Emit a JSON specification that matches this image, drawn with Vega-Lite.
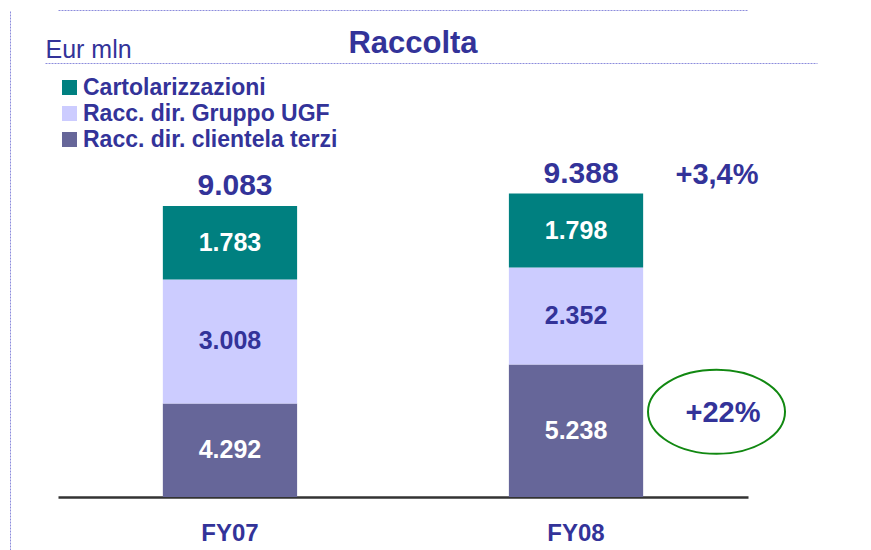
{
  "$schema": "https://vega.github.io/schema/vega-lite/v6.json",
  "width": 861,
  "height": 540,
  "autosize": "none",
  "padding": {"left": 10, "top": 10, "right": 0, "bottom": 0},
  "background": "white",
  "config": {
    "view": {"stroke": null},
    "font": "Liberation Sans",
    "locale": {"number": {"decimal": ",", "thousands": ".", "grouping": [3], "currency": ["€", ""]}}
  },
  "datasets": {
    "segments": [
      {"year": "FY07", "serie": "Racc. dir. clientela terzi", "ord": 1, "value": 4292},
      {"year": "FY07", "serie": "Racc. dir. Gruppo UGF", "ord": 2, "value": 3008},
      {"year": "FY07", "serie": "Cartolarizzazioni", "ord": 3, "value": 1783},
      {"year": "FY08", "serie": "Racc. dir. clientela terzi", "ord": 1, "value": 5238, "growth": "+22%"},
      {"year": "FY08", "serie": "Racc. dir. Gruppo UGF", "ord": 2, "value": 2352},
      {"year": "FY08", "serie": "Cartolarizzazioni", "ord": 3, "value": 1798}
    ],
    "totals": [
      {"year": "FY07", "total": 9083},
      {"year": "FY08", "total": 9388, "growth": "+3,4%"}
    ]
  },
  "layer": [
    {
      "layer": [
        {
          "data": {"name": "segments"},
          "transform": [
            {"stack": "value", "groupby": ["year"], "sort": [{"field": "ord", "order": "ascending"}], "as": ["v0", "v1"]},
            {"calculate": "max(datum.v0, 2020)", "as": "lo"}
          ],
          "mark": {"type": "bar"},
          "encoding": {
            "x": {
              "field": "year", "type": "nominal",
              "scale": {"range": [48, 738], "paddingInner": 0.612, "paddingOuter": 0.303},
              "axis": {
                "orient": "bottom", "offset": -53, "title": null,
                "domainColor": "#333333", "domainWidth": 2.5,
                "ticks": false, "tickSize": 0, "labelPadding": 24, "labelAngle": 0,
                "labelFont": "Liberation Sans", "labelFontSize": 24, "labelFontWeight": "bold",
                "labelColor": "#333399", "labelBaseline": "top"
              }
            },
            "y": {
              "field": "v1", "type": "quantitative",
              "scale": {"domain": [735, 13842], "nice": false, "zero": false},
              "axis": {
                "orient": "left", "values": [13842],
                "labels": false, "ticks": false,
                "domain": true, "domainColor": "#8c8cdc", "domainDash": [2, 1], "domainWidth": 1,
                "grid": true, "gridColor": "#8c8cdc", "gridDash": [2, 1], "gridWidth": 1,
                "title": "Eur mln", "titleAngle": 0, "titleAlign": "left", "titleBaseline": "alphabetic",
                "titleX": 35, "titleY": 47,
                "titleFont": "Liberation Sans", "titleFontSize": 25, "titleFontWeight": "normal", "titleColor": "#333399"
              }
            },
            "y2": {"field": "lo"},
            "color": {
              "field": "serie", "type": "nominal",
              "scale": {
                "domain": ["Cartolarizzazioni", "Racc. dir. Gruppo UGF", "Racc. dir. clientela terzi"],
                "range": ["#008080", "#CCCCFF", "#666699"]
              },
              "legend": {
                "title": null, "orient": "none", "legendX": 48, "legendY": 66,
                "symbolType": "square", "symbolSize": 225, "symbolStrokeWidth": 0, "symbolOpacity": 1,
                "labelFont": "Liberation Sans", "labelFontSize": 23, "labelFontWeight": "bold",
                "labelColor": "#333399", "labelOffset": 2, "labelLimit": 500,
                "rowPadding": 2, "padding": 0
              }
            }
          }
        },
        {
          "data": {"name": "segments"},
          "transform": [
            {"stack": "value", "groupby": ["year"], "sort": [{"field": "ord", "order": "ascending"}], "as": ["v0", "v1"]},
            {"calculate": "(max(datum.v0, 2020) + datum.v1) / 2", "as": "mid"}
          ],
          "mark": {"type": "text", "font": "Liberation Sans", "fontSize": 25, "fontWeight": "bold", "baseline": "middle", "align": "center"},
          "encoding": {
            "x": {"field": "year", "type": "nominal"},
            "y": {"field": "mid", "type": "quantitative"},
            "text": {"field": "value", "type": "quantitative", "format": ",.0f"},
            "color": {"condition": {"test": "datum.ord === 2", "value": "#333399"}, "value": "#FFFFFF"}
          }
        },
        {
          "data": {"name": "totals"},
          "mark": {"type": "text", "font": "Liberation Sans", "fontSize": 30, "fontWeight": "bold", "baseline": "middle", "align": "center", "dx": 5, "dy": -20, "color": "#333399"},
          "encoding": {
            "x": {"field": "year", "type": "nominal"},
            "y": {"field": "total", "type": "quantitative"},
            "text": {"field": "total", "type": "quantitative", "format": ",.0f"}
          }
        },
        {
          "data": {"name": "totals"},
          "transform": [{"filter": "datum.growth != null"}],
          "mark": {"type": "text", "font": "Liberation Sans", "fontSize": 29, "fontWeight": "bold", "baseline": "middle", "align": "center", "dx": 141, "dy": -19, "color": "#333399"},
          "encoding": {
            "x": {"field": "year", "type": "nominal"},
            "y": {"field": "total", "type": "quantitative"},
            "text": {"field": "growth", "type": "nominal"}
          }
        },
        {
          "data": {"name": "segments"},
          "transform": [
            {"stack": "value", "groupby": ["year"], "sort": [{"field": "ord", "order": "ascending"}], "as": ["v0", "v1"]},
            {"calculate": "(max(datum.v0, 2020) + datum.v1) / 2", "as": "mid"},
            {"filter": "datum.growth != null"}
          ],
          "mark": {"type": "point", "shape": "M1.051,-0.277A1,0.613,0,1,1,3.051,-0.277A1,0.613,0,1,1,1.051,-0.277Z", "size": 18769, "filled": false, "stroke": "#118811", "strokeWidth": 2, "opacity": 1},
          "encoding": {
            "x": {"field": "year", "type": "nominal"},
            "y": {"field": "mid", "type": "quantitative"}
          }
        },
        {
          "data": {"name": "segments"},
          "transform": [
            {"stack": "value", "groupby": ["year"], "sort": [{"field": "ord", "order": "ascending"}], "as": ["v0", "v1"]},
            {"calculate": "(max(datum.v0, 2020) + datum.v1) / 2", "as": "mid"},
            {"filter": "datum.growth != null"}
          ],
          "mark": {"type": "text", "font": "Liberation Sans", "fontSize": 29, "fontWeight": "bold", "baseline": "middle", "align": "center", "dx": 147, "dy": -18, "color": "#333399"},
          "encoding": {
            "x": {"field": "year", "type": "nominal"},
            "y": {"field": "mid", "type": "quantitative"},
            "text": {"field": "growth", "type": "nominal"}
          }
        }
      ]
    },
    {
      "data": {"name": "totals"},
      "mark": {"type": "point", "opacity": 0},
      "encoding": {
        "x": {
          "field": "year", "type": "nominal",
          "scale": {"type": "point", "range": [35, 807]},
          "axis": {
            "orient": "top", "offset": -53,
            "labels": false, "ticks": false, "grid": false,
            "domainColor": "#8c8cdc", "domainDash": [2, 1], "domainWidth": 1,
            "title": "Raccolta", "titleX": 402.5, "titleY": -11,
            "titleAlign": "center", "titleBaseline": "alphabetic", "titleAngle": 0,
            "titleFont": "Liberation Sans", "titleFontSize": 31, "titleFontWeight": "bold", "titleColor": "#333399"
          }
        }
      }
    }
  ],
  "resolve": {"scale": {"x": "independent"}, "axis": {"x": "independent"}}
}
